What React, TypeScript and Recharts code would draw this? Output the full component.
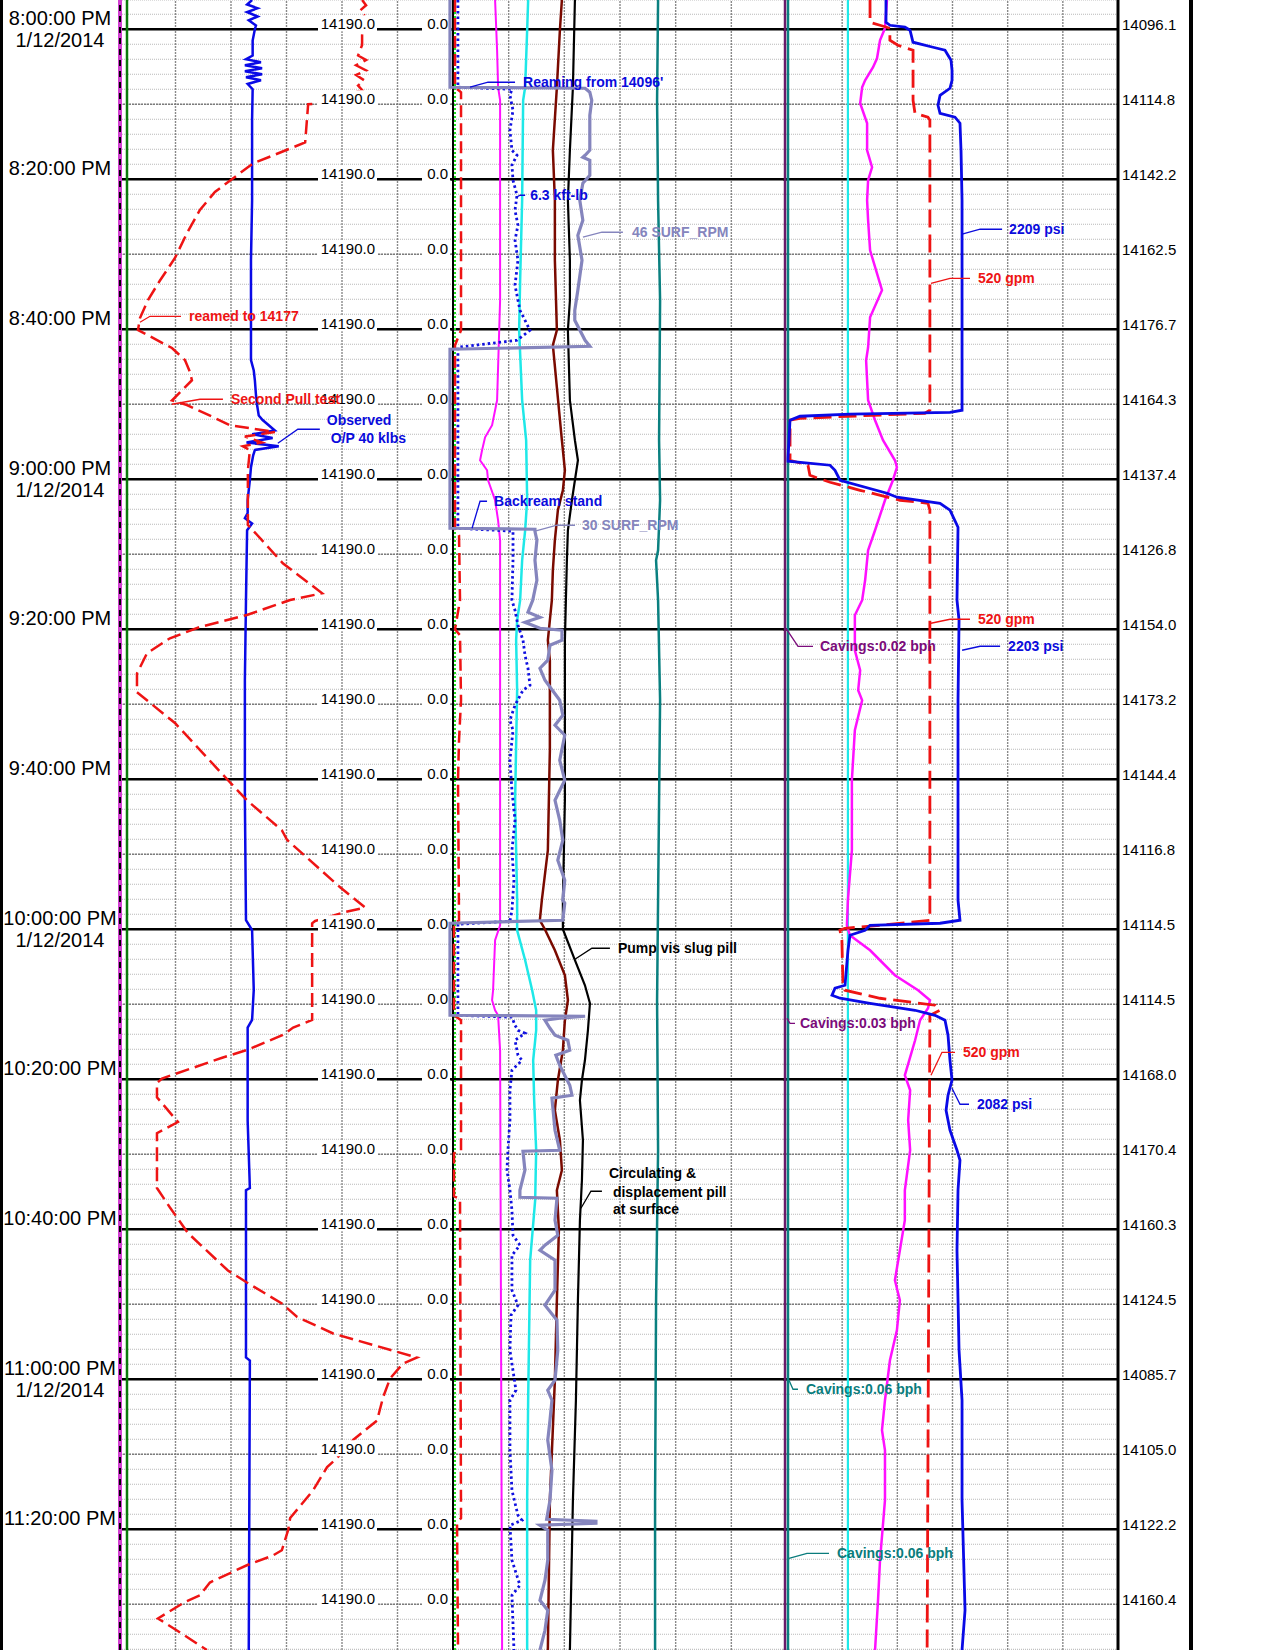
import React from 'react'
import { LineChart, Line, XAxis, YAxis, CartesianGrid, ReferenceLine, ReferenceDot } from 'recharts'

const FONT = '"Liberation Sans", Arial, Helvetica, sans-serif'
const W = 1275
const H = 1650

// time = minutes after 8:00:00 PM, sheet runs from 7:56 to 11:36
const TIME_DOMAIN: [number, number] = [-3.9, 216.1]
const minorTicks = Array.from({ length: 110 }, (_, i) => i * 2 - 2)
const tenMinLines = [0, 10, 20, 30, 40, 50, 60, 70, 80, 90, 100, 110, 120, 130, 140, 150, 160, 170, 180, 190, 200, 210]
const gridCols = [1, 2, 3, 4, 5].map((k) => (k * 100) / 6)

const clockLabels = ['8:00:00 PM', '8:20:00 PM', '8:40:00 PM', '9:00:00 PM', '9:20:00 PM', '9:40:00 PM', '10:00:00 PM', '10:20:00 PM', '10:40:00 PM', '11:00:00 PM', '11:20:00 PM']
const dateLabel = '1/12/2014'
const depthLabels = ['14096.1', '14114.8', '14142.2', '14162.5', '14176.7', '14164.3', '14137.4', '14126.8', '14154.0', '14173.2', '14144.4', '14116.8', '14114.5', '14114.5', '14168.0', '14170.4', '14160.3', '14124.5', '14085.7', '14105.0', '14122.2', '14160.4']
const bitDepthLabel = '14190.0'
const zeroLabel = '0.0'

type P = [number, number | null][]

// track 1: hookload (klbs, 0-600) and block position (0-100)
const hookload: P = [[-3.9,238],[-3.3,229],[-2.8,248],[-2.3,229],[-1.7,248],[-1.2,232],[-0.5,245],[0,243],[1.5,239],[3.5,239],[4.0,227],[4.4,254],[4.8,225],[5.2,256],[5.6,225],[6.0,256],[6.4,227],[6.8,254],[7.3,230],[8.0,239],[12.1,238],[22.8,238],[30.8,236],[40.1,236],[44.1,236],[45.5,241],[46.8,243],[48.8,245],[50.1,247],[51.5,250],[52.1,257],[53.5,279],[54.0,238],[54.5,275],[55.1,228],[55.6,286],[56.1,243],[56.8,240],[58.4,236],[60.1,234],[62.8,230],[64.5,230],[65.2,225],[65.9,238],[66.8,229],[76.1,227],[86.8,225],[102.8,225],[118.8,227],[120.1,238],[128.1,241],[132.1,238],[133.1,230],[145.5,230],[154.5,234],[154.8,227],[177.1,227],[177.5,234],[216.1,232]]
const blockPos: P = [[-3.9,72.7],[-3.2,73.9],[-2.5,72.1],[-1.9,73.3],[0.8,72.7],[2.1,72.7],[3.5,71.5],[4.1,73.9],[4.8,70.9],[5.5,73.9],[6.1,70.9],[6.8,73.3],[7.5,71.5],[8.1,72.7],[9.0,null],[9.9,59.2],[10.0,56.5],[15.1,55.6],[15.9,51.1],[17.9,39.9],[19.9,33.9],[21.7,28.5],[24.1,24.0],[27.2,20.1],[30.5,16.5],[33.5,12.0],[36.1,8.4],[38.5,6.0],[40.1,5.4],[42.5,15.6],[44.1,19.5],[45.7,21.0],[46.8,21.6],[49.5,15.6],[50.1,20.1],[51.7,27.9],[52.8,33.0],[53.7,46.5],[54.3,37.5],[55.1,42.6],[55.6,36.9],[56.1,39.0],[58.8,38.4],[66.1,38.4],[66.8,39.9],[71.2,48.9],[75.2,60.7],[76.1,51.1],[78.1,38.1],[79.7,24.0],[81.2,15.0],[83.2,8.1],[85.9,5.1],[88.4,5.1],[92.5,16.5],[100.4,33.0],[102.8,38.1],[106.8,48.6],[108.1,50.2],[114.4,66.1],[117.1,73.6],[117.7,67.6],[118.3,null],[118.9,58.6],[119.2,57.7],[132.1,57.7],[133.1,52.0],[134.1,48.9],[136.1,38.1],[137.1,30.9],[139.9,12.6],[140.5,11.1],[142.4,11.1],[145.7,17.4],[147.2,11.1],[154.5,11.1],[157.1,15.0],[160.5,20.4],[165.5,32.4],[167.1,38.1],[169.9,48.6],[171.7,53.2],[173.9,64.0],[177.1,89.2],[177.9,85.0],[179.9,81.1],[182.4,79.0],[185.5,77.2],[188.1,70.0],[190.5,65.2],[191.7,62.2],[194.8,58.0],[198.5,51.1],[200.1,50.5],[202.8,48.6],[203.5,45.9],[204.8,38.1],[207.1,27.0],[208.8,24.0],[209.7,19.5],[211.9,11.4],[213.5,17.1],[216.1,26.1]]

// track 2: surface rpm, torque (kft-lb) and the rest in track percent
const surfRpm: P = [[-3.9,0],[7.73,0],[7.87,48.5],[8.4,50.2],[9.47,50.9],[11.47,50.2],[16.13,50.2],[16.8,48.5],[17.07,47.7],[17.47,50.2],[19.47,50.2],[20.53,47.7],[22.8,46.6],[25.47,47.7],[27.47,45.9],[30.8,47.4],[34.8,45.9],[37.47,44.8],[38.8,44.8],[41.47,48.5],[42.27,50.2],[42.67,0],[66.53,0],[66.67,30.5],[66.93,30.5],[68.13,31.2],[70.8,30.5],[73.47,31.2],[76.13,29.7],[77.73,28.0],[78.4,32.3],[79.07,26.9],[79.87,32.3],[80.13,40.2],[81.47,40.2],[82.13,35.9],[84.13,35.1],[85.2,32.3],[86.8,34.1],[89.47,39.4],[91.47,40.5],[92.8,37.7],[94.13,41.2],[97.47,39.4],[100.13,41.2],[102.8,37.7],[105.47,39.4],[108.13,40.5],[110.8,38.7],[113.47,41.2],[116.13,40.5],[116.53,41.2],[118.8,40.5],[119.2,0],[131.47,0],[131.6,48.5],[131.87,39.4],[132.13,34.1],[133.2,35.9],[134.13,37.7],[134.8,42.3],[136.13,43.0],[136.8,38.0],[138.13,39.4],[140.8,43.0],[142.13,43.8],[142.53,36.6],[146.8,37.7],[149.47,39.4],[149.6,26.2],[152.13,26.9],[154.8,25.1],[155.73,25.1],[155.87,38.4],[158.8,37.7],[160.8,38.7],[162.13,34.1],[162.8,32.3],[164.13,37.7],[168.13,37.7],[170.13,34.1],[172.13,38.4],[176.13,38.7],[180.13,37.7],[181.47,35.1],[182.8,36.6],[185.47,35.9],[188.13,35.1],[192.13,36.6],[196.13,35.9],[198.67,34.7],[198.93,52.4],[199.2,52.4],[199.47,32.3],[200.13,35.1],[204.13,35.1],[206.8,34.1],[209.47,32.3],[210.8,35.1],[213.47,34.1],[216.1,32.3]]
const torque: P = [[-3.9,0.52],[7.73,0.52],[8.0,6.18],[8.8,5.97],[10.8,6.29],[13.47,5.97],[16.13,6.18],[16.8,6.71],[18.13,6.18],[20.13,6.29],[22.13,6.71],[24.13,6.5],[26.13,6.81],[28.13,6.5],[30.8,6.81],[34.13,6.5],[37.47,7.02],[40.13,8.07],[41.47,6.71],[42.4,0.52],[66.53,0.52],[66.93,6.29],[70.8,6.29],[76.13,6.18],[77.47,6.5],[79.47,6.81],[81.47,7.34],[83.47,7.55],[85.2,7.86],[87.47,8.07],[88.13,7.34],[90.13,6.5],[92.13,5.97],[93.47,6.29],[97.47,5.97],[101.47,6.18],[105.47,6.5],[109.47,6.18],[113.47,6.39],[117.47,6.18],[118.93,5.97],[119.33,0.52],[131.47,0.52],[131.73,6.18],[132.8,6.5],[133.47,6.81],[133.87,7.55],[134.8,6.5],[136.8,6.81],[137.47,7.23],[138.8,6.18],[141.47,5.97],[145.47,5.97],[149.47,5.76],[152.13,5.66],[154.8,5.97],[157.47,6.18],[160.8,6.29],[162.13,7.02],[163.47,6.18],[168.13,6.18],[170.13,6.81],[171.47,6.08],[176.13,5.97],[181.47,6.6],[182.8,5.97],[189.47,5.97],[194.8,6.18],[198.13,6.81],[198.8,7.23],[199.47,5.97],[204.13,6.18],[207.47,7.02],[208.8,6.18],[216.1,6.39]]
const edgeRed: P = [[-3.9,0.6],[7.73,0.6],[8.4,2.4],[40.13,2.4],[42.13,0.6],[66.53,0.6],[67.47,1.8],[76.13,2.1],[80.0,0.6],[80.8,2.1],[89.47,2.4],[94.8,1.8],[100.13,1.5],[118.8,1.8],[119.2,0.3],[131.47,0.3],[132.13,2.4],[149.47,2.4],[149.87,0.3],[155.6,0.3],[156.0,2.1],[198.5,2.4],[199.2,1.2],[216.1,1.5]]
const magenta2: P = [[-3.9,12.6],[2.8,13.2],[7.73,13.5],[9.47,14.1],[22.8,14.1],[36.13,14.1],[49.47,13.2],[52.8,11.7],[54.4,9.6],[56.13,8.7],[57.47,8.1],[58.8,10.2],[60.13,10.5],[62.8,12.6],[65.47,13.5],[68.13,14.1],[89.47,14.1],[116.13,14.1],[119.47,14.1],[121.47,12.6],[128.13,12.0],[129.47,11.7],[130.8,12.6],[131.47,13.5],[136.13,14.1],[216.1,14.7]]
const cyan2: P = [[-3.9,22.5],[0.13,22.2],[7.73,21.6],[9.47,21.0],[22.8,20.7],[33.47,20.1],[40.13,19.8],[49.47,20.7],[54.8,21.9],[62.8,22.2],[66.8,21.6],[70.8,20.7],[76.13,20.1],[78.8,19.2],[81.47,18.9],[88.13,19.2],[102.8,18.6],[116.13,19.2],[120.13,19.2],[124.13,21.6],[128.13,23.7],[130.8,24.9],[133.47,24.9],[137.47,24.0],[142.8,24.3],[149.47,24.9],[156.13,24.6],[164.13,23.1],[182.8,22.5],[196.13,22.2],[216.1,22.2]]
const maroon2: P = [[-3.9,32.6],[0.13,32.0],[7.73,31.1],[16.13,29.9],[22.8,30.5],[30.8,30.5],[40.13,31.1],[42.13,29.9],[54.8,32.6],[58.8,33.5],[61.47,32.9],[64.13,31.4],[68.13,30.5],[72.13,29.9],[76.13,29.6],[78.8,29.0],[81.47,28.4],[84.13,29.0],[96.13,29.0],[109.47,28.4],[116.13,26.6],[118.8,26.0],[120.0,27.5],[122.8,30.5],[126.13,33.5],[129.47,34.4],[132.13,33.5],[136.13,32.9],[140.13,31.4],[144.13,30.5],[148.13,32.0],[152.13,32.6],[154.8,31.1],[160.13,31.7],[169.47,31.1],[180.13,30.5],[196.13,29.0],[216.1,28.4]]
const black2: P = [[-3.9,36.5],[7.73,35.9],[16.13,35.0],[22.8,34.4],[30.8,35.0],[36.13,35.0],[40.13,34.4],[49.47,35.0],[54.8,36.5],[57.47,37.4],[60.13,36.5],[62.8,35.6],[66.8,34.4],[70.8,34.1],[76.13,33.8],[81.47,33.5],[102.8,33.5],[116.13,32.9],[120.0,32.9],[124.13,36.5],[127.47,39.5],[129.87,41.0],[133.47,40.4],[137.47,39.5],[140.13,38.6],[142.8,38.0],[148.13,38.9],[153.47,38.6],[158.8,38.0],[169.47,37.4],[182.8,36.8],[196.13,35.9],[216.1,35.0]]
const teal2: P = [[-3.9,61.4],[9.47,61.1],[22.8,61.4],[36.13,62.0],[54.8,61.7],[62.8,62.0],[69.47,61.4],[70.8,60.8],[76.13,61.4],[89.47,62.0],[116.13,61.4],[129.47,61.1],[149.47,61.4],[169.47,60.8],[196.13,60.5],[216.1,60.5]]

// track 3: standpipe pressure (psi), flow in (gpm), the rest in track percent
const spp: P = [[-3.9,1256],[-0.93,1256],[-0.53,1307],[-0.27,1497],[0.13,1561],[1.73,1599],[2.4,1853],[2.8,2005],[3.47,2043],[4.13,2081],[5.47,2094],[6.8,2094],[7.87,2068],[8.8,1942],[10.13,1916],[11.2,1942],[11.73,2132],[12.53,2195],[16.13,2208],[22.8,2221],[36.13,2221],[50.8,2221],[51.07,2068],[51.33,799],[51.6,165],[52.13,38],[57.2,13],[57.6,13],[58.13,546],[58.8,609],[60.13,673],[61.87,1269],[62.4,1396],[63.2,1942],[64.13,2068],[66.4,2170],[76.13,2157],[78.8,2183],[89.47,2170],[102.8,2170],[116.13,2170],[118.8,2195],[119.2,1942],[119.47,1053],[120.13,990],[120.8,799],[122.8,774],[127.47,736],[127.87,609],[128.8,571],[129.2,673],[129.87,1053],[130.8,1624],[131.47,1878],[132.13,2005],[134.13,2043],[137.47,2068],[140.13,2094],[142.13,2043],[144.13,2018],[146.8,2068],[149.47,2157],[150.8,2195],[154.8,2170],[162.8,2157],[176.13,2183],[182.8,2221],[196.13,2221],[210.8,2259],[216.1,2221]]
const flowIn: P = [[-3.9,301],[-0.93,301],[-0.53,337],[-0.13,373],[1.47,373],[2.13,402],[2.8,457],[9.47,457],[11.2,464],[11.73,511],[12.13,518],[50.8,518],[51.2,500],[51.87,47],[52.13,11],[57.47,11],[58.13,76],[59.47,83],[60.4,156],[61.47,265],[62.8,410],[63.2,511],[64.13,518],[118.8,518],[119.47,337],[119.87,210],[120.13,192],[121.47,199],[127.47,203],[128.13,210],[129.2,337],[130.13,537],[130.8,555],[131.47,518],[216.1,508]]
const magenta3: P = [[-3.9,30.2],[-0.13,29.6],[1.47,28.1],[3.87,27.2],[5.07,26.0],[6.8,23.6],[7.73,22.7],[9.87,22.1],[12.53,24.2],[16.13,24.2],[18.4,25.7],[20.13,24.5],[22.8,24.2],[25.47,24.5],[29.47,25.1],[34.8,28.7],[38.4,25.1],[42.4,24.5],[44.13,23.9],[49.47,24.5],[52.13,26.6],[54.8,29.0],[57.47,32.6],[58.4,33.2],[60.13,32.0],[62.8,29.6],[66.8,26.6],[69.47,24.5],[73.47,23.6],[76.13,22.7],[78.13,20.5],[82.8,20.5],[85.47,22.1],[88.13,21.5],[89.47,22.7],[93.47,20.5],[100.13,19.6],[109.47,19.6],[116.13,18.4],[119.47,18.1],[120.8,19.0],[122.8,25.1],[126.13,32.6],[128.13,39.6],[129.47,43.2],[130.53,42.6],[132.13,40.2],[134.8,38.7],[139.47,35.6],[141.47,37.2],[145.47,36.6],[149.47,37.2],[154.8,35.6],[158.8,35.6],[162.8,34.1],[166.8,32.6],[169.47,34.1],[173.47,33.2],[177.47,31.1],[182.8,29.6],[186.8,28.7],[189.47,29.6],[196.13,29.6],[204.13,28.1],[209.47,27.5],[216.1,26.6]]
const cyan3: P = [[-3.9,18.4],[216.1,18.4]]

const RED = '#ee1414'
const BLUE = '#0b0bdc'
const LAV = '#8585bd'
const PURPLE = '#7b0b7b'
const TEAL = '#0a7c7c'

type Note = { x: number; t: number; ex: number; ey: number; len: number; gap: number; color: string; lines: string[]; dx?: number[]; dy?: number[] }

const notes1: Note[] = [
  { x: 6.0, t: 39.07, ex: 10, ey: -6, len: 31, gap: 8, color: RED, lines: ['reamed to 14177'] },
  { x: 15.6, t: 50.0, ex: 28, ey: -5, len: 23, gap: 8, color: RED, lines: ['Second Pull test'] },
  { x: 47.4, t: 55.2, ex: 20, ey: -14, len: 22, gap: 7, color: BLUE, lines: ['Observed', 'O/P 40 klbs'], dx: [0, 4], dy: [-9, 9] },
]
const notes2: Note[] = [
  { x: 5.1, t: 7.73, ex: 18, ey: -5, len: 27, gap: 8, color: BLUE, lines: ["Reaming from 14096'"] },
  { x: 18.9, t: 22.4, ex: 4, ey: -2, len: 5, gap: 5, color: BLUE, lines: ['6.3 kft-lb'] },
  { x: 38.9, t: 27.73, ex: 19, ey: -5, len: 21, gap: 9, color: LAV, lines: ['46 SURF_RPM'] },
  { x: 5.7, t: 66.53, ex: 8, ey: -27, len: 7, gap: 7, color: BLUE, lines: ['Backream stand'] },
  { x: 24.55, t: 66.93, ex: 22, ey: -6, len: 18, gap: 7, color: LAV, lines: ['30 SURF_RPM'] },
  { x: 36.5, t: 124.0, ex: 17, ey: -11, len: 18, gap: 8, color: '#000', lines: ['Pump vis slug pill'] },
  { x: 38.3, t: 157.2, ex: 10, ey: -17, len: 11, gap: 7, color: '#000', lines: ['Circulating &', 'displacement pill', 'at surface'], dx: [0, 4, 4], dy: [-18, 1, 18] },
]
const notes3: Note[] = [
  { x: 52.9, t: 27.33, ex: 18, ey: -5, len: 22, gap: 7, color: BLUE, lines: ['2209 psi'] },
  { x: 43.5, t: 33.87, ex: 19, ey: -5, len: 20, gap: 8, color: RED, lines: ['520 gpm'] },
  { x: 43.5, t: 79.2, ex: 19, ey: -4, len: 20, gap: 8, color: RED, lines: ['520 gpm'] },
  { x: -0.3, t: 79.87, ex: 12, ey: 18, len: 15, gap: 7, color: PURPLE, lines: ['Cavings:0.02 bph'] },
  { x: 52.9, t: 82.8, ex: 18, ey: -4, len: 20, gap: 8, color: BLUE, lines: ['2203 psi'] },
  { x: 0, t: 131.87, ex: 3, ey: 5, len: 5, gap: 5, color: PURPLE, lines: ['Cavings:0.03 bph'] },
  { x: 43.5, t: 139.47, ex: 11, ey: -23, len: 13, gap: 8, color: RED, lines: ['520 gpm'] },
  { x: 49.85, t: 141.2, ex: 8, ey: 16, len: 9, gap: 8, color: BLUE, lines: ['2082 psi'] },
  { x: 0.6, t: 180.13, ex: 4, ey: 9, len: 5, gap: 8, color: TEAL, lines: ['Cavings:0.06 bph'] },
  { x: 0.6, t: 203.87, ex: 18, ey: -5, len: 22, gap: 8, color: TEAL, lines: ['Cavings:0.06 bph'] },
]

const rows = (a: P) => a.map(([t, v]) => ({ t, v }))

function noteShape(n: Note) {
  return (p: any) => {
    const cx = p.cx ?? 0
    const cy = p.cy ?? 0
    const ex = cx + n.ex
    const ey = cy + n.ey
    const hx = ex + n.len
    return (
      <g>
        <polyline points={`${cx},${cy} ${ex},${ey} ${hx},${ey}`} fill="none" stroke={n.color} strokeWidth={1.3} />
        {n.lines.map((s, i) => (
          <text key={i} x={hx + n.gap + (n.dx ? n.dx[i] : 0)} y={ey + (n.dy ? n.dy[i] : 0) + 5} fill={n.color} fontSize={14} fontWeight="bold" fontFamily={FONT}>
            {s}
          </text>
        ))}
      </g>
    )
  }
}

function noteDots(list: Note[], key: string) {
  return list.map((n, i) => (
    <ReferenceDot key={key + i} xAxisId="pct" yAxisId="t" x={n.x} y={n.t} r={1} ifOverflow="visible" shape={noteShape(n)} />
  ))
}

function gridParts(key: string) {
  return [
    <CartesianGrid key={key + 'g'} xAxisId="pct" yAxisId="t" vertical={false} stroke="#b9b9b9" strokeDasharray="1 1" />,
    ...gridCols.map((c) => (
      <ReferenceLine key={key + 'c' + c} xAxisId="pct" yAxisId="t" x={c} stroke="#8a8a8a" strokeWidth={1.4} strokeDasharray="2 1" />
    )),
    ...tenMinLines.map((t) => (
      <ReferenceLine
        key={key + 'h' + t}
        xAxisId="pct"
        yAxisId="t"
        y={t}
        stroke={t % 20 === 0 ? '#000' : '#7c7c7c'}
        strokeWidth={t % 20 === 0 ? 2.6 : 1.4}
        strokeDasharray={t % 20 === 0 ? undefined : '2 1'}
      />
    )),
  ]
}

const TimeTick = (p: any) => {
  const t = p.payload ? p.payload.value : -1
  if (t < 0 || t % 20 !== 0) return <g />
  const i = t / 20
  return (
    <g fontFamily={FONT} fontSize={20} fill="#000">
      <text x={60} y={p.y - 4} textAnchor="middle">{clockLabels[i]}</text>
      {i % 3 === 0 ? <text x={60} y={p.y + 18} textAnchor="middle">{dateLabel}</text> : null}
    </g>
  )
}

const DepthTick = (p: any) => {
  const t = p.payload ? p.payload.value : -1
  if (t < 0 || t % 10 !== 0) return <g />
  return (
    <text x={p.x} y={p.y + 1} textAnchor="start" fontFamily={FONT} fontSize={15} fill="#000">
      {depthLabels[t / 10]}
    </text>
  )
}

const scaleLabel = (p: any) => {
  const vb = p.viewBox || {}
  const x = vb.x ?? 0
  const y = vb.y ?? 0
  return (
    <g fontFamily={FONT} fontSize={15} fill="#000">
      <rect x={x + 198} y={y - 14} width={59} height={16} fill="#fff" />
      <text x={x + 255} y={y} textAnchor="end">{bitDepthLabel}</text>
      <rect x={x + 302} y={y - 14} width={29} height={16} fill="#fff" />
      <text x={x + 328} y={y} textAnchor="end">{zeroLabel}</text>
    </g>
  )
}

const lineProps = { yAxisId: 't', dataKey: 'v', dot: false, activeDot: false, isAnimationActive: false, type: 'linear' as const }

export default function App() {
  return (
    <div style={{ position: 'absolute', left: 0, top: 0, width: W, height: H, background: '#fff', overflow: 'hidden', fontFamily: FONT }}>
      <div style={{ position: 'absolute', left: 0, top: 0, width: 3, height: H, background: '#000' }} />
      <div style={{ position: 'absolute', left: 1189, top: 0, width: 4, height: H, background: '#000' }} />

      {/* track 1: hookload / block */}
      <div style={{ position: 'absolute', left: 0, top: 0 }}>
        <LineChart layout="vertical" width={463} height={H} margin={{ top: 0, right: 10, bottom: 0, left: 0 }}>
          <YAxis yAxisId="t" dataKey="t" type="number" domain={TIME_DOMAIN} ticks={minorTicks} interval={0} width={120} axisLine={false} tickLine={false} tick={TimeTick} />
          <XAxis xAxisId="pct" type="number" domain={[0, 100]} hide />
          <XAxis xAxisId="hl" type="number" domain={[0, 600]} hide />
          {gridParts('a')}
          <ReferenceLine xAxisId="pct" yAxisId="t" x={0} stroke="#d040d0" strokeWidth={4} />
          <ReferenceLine xAxisId="pct" yAxisId="t" x={0} stroke="#000" strokeWidth={2} strokeDasharray="6 5" />
          <ReferenceLine xAxisId="pct" yAxisId="t" x={2.1} stroke="#0a7a0a" strokeWidth={2.5} />
          <Line {...lineProps} xAxisId="hl" data={rows(hookload)} stroke="#0a0ae6" strokeWidth={2.5} />
          <Line {...lineProps} xAxisId="pct" data={rows(blockPos)} stroke={RED} strokeWidth={2.5} strokeDasharray="14 6" />
          {tenMinLines.map((t) => (
            <ReferenceLine key={'l' + t} xAxisId="pct" yAxisId="t" y={t} stroke="none" label={scaleLabel} />
          ))}
          {noteDots(notes1, 'n1')}
        </LineChart>
      </div>

      {/* track 2: rpm / torque */}
      <div style={{ position: 'absolute', left: 440, top: 0 }}>
        <LineChart layout="vertical" width={357} height={H} margin={{ top: 0, right: 10, bottom: 0, left: 10 }}>
          <YAxis yAxisId="t" dataKey="t" type="number" domain={TIME_DOMAIN} ticks={minorTicks} interval={0} hide />
          <XAxis xAxisId="pct" type="number" domain={[-0.9, 100]} hide />
          <XAxis xAxisId="rpm" type="number" domain={[0, 121]} hide />
          <XAxis xAxisId="tq" type="number" domain={[-0.31, 35]} hide />
          {gridParts('b')}
          <ReferenceLine xAxisId="pct" yAxisId="t" x={0} stroke="#000" strokeWidth={2} />
          <ReferenceLine xAxisId="pct" yAxisId="t" x={0.6} stroke="#22dd22" strokeWidth={2} strokeDasharray="2 2" />
          <Line {...lineProps} xAxisId="pct" data={rows(edgeRed)} stroke={RED} strokeWidth={2.5} strokeDasharray="12 6" />
          <Line {...lineProps} xAxisId="pct" data={rows(teal2)} stroke="#0a8080" strokeWidth={2.5} />
          <Line {...lineProps} xAxisId="pct" data={rows(magenta2)} stroke="#ff10ff" strokeWidth={2} />
          <Line {...lineProps} xAxisId="pct" data={rows(cyan2)} stroke="#1ee8e8" strokeWidth={2.5} />
          <Line {...lineProps} xAxisId="pct" data={rows(maroon2)} stroke="#7a0a00" strokeWidth={2.5} />
          <Line {...lineProps} xAxisId="pct" data={rows(black2)} stroke="#000" strokeWidth={2.2} />
          <Line {...lineProps} xAxisId="tq" data={rows(torque)} stroke="#1010e0" strokeWidth={2.8} strokeDasharray="2.5 3" />
          <Line {...lineProps} xAxisId="rpm" data={rows(surfRpm)} stroke={LAV} strokeWidth={3.2} />
          {noteDots(notes2, 'n2')}
        </LineChart>
      </div>

      {/* track 3: pressure / flow, depth column */}
      <div style={{ position: 'absolute', left: 773, top: 0 }}>
        <LineChart layout="vertical" width={502} height={H} margin={{ top: 0, right: 0, bottom: 0, left: 10 }}>
          <YAxis
            yAxisId="t"
            dataKey="t"
            type="number"
            orientation="right"
            domain={TIME_DOMAIN}
            ticks={minorTicks}
            interval={0}
            width={157}
            axisLine={{ stroke: '#000', strokeWidth: 3 }}
            tickLine={false}
            tickSize={4}
            tickMargin={0}
            tick={DepthTick}
          />
          <XAxis xAxisId="pct" type="number" domain={[-1.21, 100]} hide />
          <XAxis xAxisId="spp" type="number" domain={[-50.8, 4200]} hide />
          <XAxis xAxisId="gpm" type="number" domain={[-14.5, 1200]} hide />
          {gridParts('c')}
          <ReferenceLine xAxisId="pct" yAxisId="t" x={-0.6} stroke="#6a1a6a" strokeWidth={2.5} />
          <ReferenceLine xAxisId="pct" yAxisId="t" x={0.3} stroke="#0a8080" strokeWidth={2.5} />
          <Line {...lineProps} xAxisId="pct" data={rows(cyan3)} stroke="#1ee8e8" strokeWidth={2.2} />
          <Line {...lineProps} xAxisId="pct" data={rows(magenta3)} stroke="#ff10ff" strokeWidth={2.5} />
          <Line {...lineProps} xAxisId="gpm" data={rows(flowIn)} stroke={RED} strokeWidth={2.8} strokeDasharray="18 7" />
          <Line {...lineProps} xAxisId="spp" data={rows(spp)} stroke="#0a0ae6" strokeWidth={2.8} />
          {noteDots(notes3, 'n3')}
        </LineChart>
      </div>
    </div>
  )
}
